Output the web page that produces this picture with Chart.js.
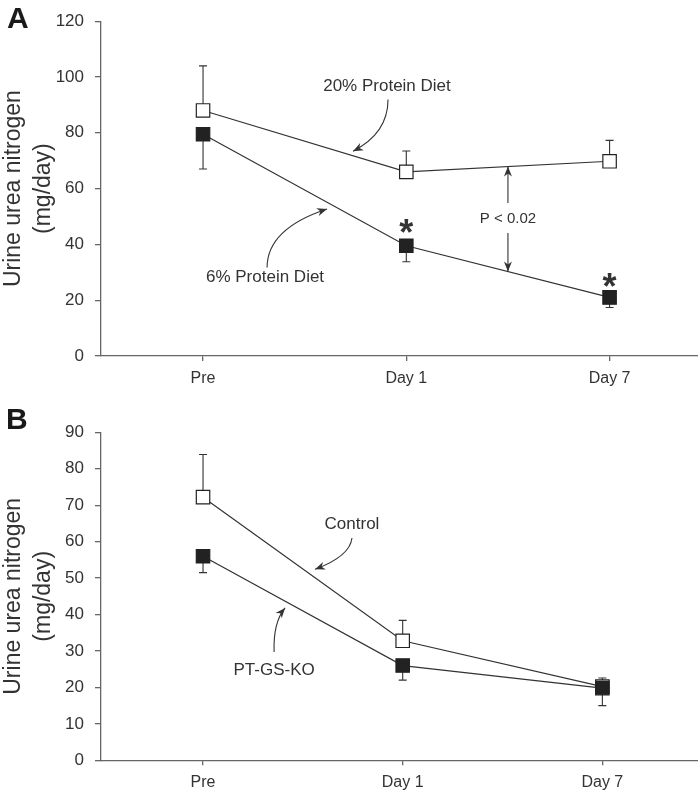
<!DOCTYPE html>
<html>
<head>
<meta charset="utf-8">
<script src="https://cdn.jsdelivr.net/npm/chart.js@4.4.0/dist/chart.umd.min.js"></script>
<style>
    body { margin: 0; background: #fff; }
    #wrap { position: relative; width: 698px; height: 791px; }
    canvas { position: absolute; left: 0; }
    .panel { position: absolute; font: bold 30px "Liberation Sans", Arial, sans-serif; line-height: 34px; color: #1a1a1a; }
</style>
</head>
<body>
<div id="wrap">
    <canvas id="chartA" width="698" height="395" style="top:0"></canvas>
    <canvas id="chartB" width="698" height="396" style="top:395px"></canvas>
    <div class="panel" style="left:7px;top:1px">A</div>
    <div class="panel" style="left:6px;top:402px">B</div>
</div>
<script>
const timepoints = ['Pre', 'Day 1', 'Day 7'];

// panel A
const protein20 = [88, 66, 69.8];
const protein20Err = [16, 7.5, 7.5];
const protein6 = [79.5, 39.5, 21];
const protein6Err = [12.5, 5.7, 3.6];
const yTicksA = [0, 20, 40, 60, 80, 100, 120];

// panel B
const control = [72.2, 32.8, 20.2];
const controlErr = [11.7, 5.6, 2.4];
const ptgsko = [56, 26, 19.8];
const ptgskoErr = [4.5, 4, 4.8];
const yTicksB = [0, 10, 20, 30, 40, 50, 60, 70, 80, 90];

const FONT = '"Liberation Sans", Arial, sans-serif';
const INK = '#333';
const AXIS = '#666';

const toPoints = vals => vals.map((v, i) => ({ x: i, y: v }));

const errorBars = {
    id: 'errorBars',
    beforeDatasetsDraw(chart) {
        const ctx = chart.ctx, ys = chart.scales.y;
        ctx.save();
        ctx.strokeStyle = INK;
        ctx.lineWidth = 1.1;
        chart.data.datasets.forEach((ds, i) => {
            chart.getDatasetMeta(i).data.forEach((pt, j) => {
                const end = ys.getPixelForValue(ds.data[j].y + ds.errDir * ds.errors[j]);
                ctx.beginPath();
                ctx.moveTo(pt.x, pt.y);
                ctx.lineTo(pt.x, end);
                ctx.moveTo(pt.x - 4, end);
                ctx.lineTo(pt.x + 4, end);
                ctx.stroke();
            });
        });
        ctx.restore();
    }
};

function arrowHead(ctx, x, y, dx, dy) {
    const len = Math.hypot(dx, dy), ux = dx / len, uy = dy / len;
    ctx.beginPath();
    ctx.moveTo(x, y);
    ctx.lineTo(x - ux * 10 - uy * 4, y - uy * 10 + ux * 4);
    ctx.lineTo(x - ux * 7, y - uy * 7);
    ctx.lineTo(x - ux * 10 + uy * 4, y - uy * 10 - ux * 4);
    ctx.closePath();
    ctx.fill();
}

// annotations are given in data units and placed through the chart scales
const makeNotes = items => ({
    id: 'notes',
    afterDatasetsDraw(chart) {
        const ctx = chart.ctx, xs = chart.scales.x, ys = chart.scales.y;
        const px = v => xs.getPixelForValue(v), py = v => ys.getPixelForValue(v);
        ctx.save();
        ctx.fillStyle = INK;
        ctx.strokeStyle = INK;
        ctx.lineWidth = 1.1;
        items.forEach(n => {
            if (n.type === 'text') {
                ctx.font = n.font || ('17px ' + FONT);
                ctx.textAlign = 'center';
                ctx.textBaseline = 'middle';
                ctx.fillText(n.text, px(n.x), py(n.y));
            } else if (n.type === 'star') {
                ctx.font = 'bold 36px ' + FONT;
                ctx.textAlign = 'center';
                ctx.textBaseline = 'alphabetic';
                ctx.fillText('*', px(n.x), py(n.y) + 21);
            } else if (n.type === 'curve') {
                const [x0, y0] = [px(n.from[0]), py(n.from[1])];
                const [x1, y1] = [px(n.ctrl[0]), py(n.ctrl[1])];
                const [x2, y2] = [px(n.to[0]), py(n.to[1])];
                ctx.beginPath();
                ctx.moveTo(x0, y0);
                ctx.quadraticCurveTo(x1, y1, x2, y2);
                ctx.stroke();
                arrowHead(ctx, x2, y2, x2 - x1, y2 - y1);
            } else if (n.type === 'span') {
                const x = px(n.x), top = py(n.y1), bot = py(n.y2), mid = (top + bot) / 2;
                ctx.beginPath();
                ctx.moveTo(x, top);
                ctx.lineTo(x, mid - 16);
                ctx.moveTo(x, mid + 14);
                ctx.lineTo(x, bot);
                ctx.stroke();
                arrowHead(ctx, x, top, 0, -1);
                arrowHead(ctx, x, bot, 0, 1);
                ctx.font = '15px ' + FONT;
                ctx.textAlign = 'center';
                ctx.textBaseline = 'middle';
                ctx.fillText(n.text, x, mid);
            }
        });
        ctx.restore();
    }
});

const makeOptions = (xMin, xMax, yMax, yTicks, top, xHeight) => ({
    responsive: false,
    animation: false,
    layout: { autoPadding: false, padding: { top: top, left: 0, right: 0, bottom: 0 } },
    plugins: { legend: { display: false }, tooltip: { enabled: false } },
    scales: {
        x: {
            type: 'linear',
            min: xMin,
            max: xMax,
            afterBuildTicks: s => { s.ticks = timepoints.map((_, i) => ({ value: i })); },
            afterFit: s => { s.height = xHeight; },
            ticks: {
                callback: v => timepoints[v],
                font: { family: FONT, size: 16 },
                color: INK,
                padding: 8,
                maxRotation: 0,
                autoSkip: false
            },
            grid: { drawOnChartArea: false, tickLength: 5, color: AXIS, lineWidth: 1.3 },
            border: { color: AXIS, width: 1.3 }
        },
        y: {
            min: 0,
            max: yMax,
            afterBuildTicks: s => { s.ticks = yTicks.map(v => ({ value: v })); },
            afterFit: s => { s.width = 101; },
            ticks: {
                font: { family: FONT, size: 17 },
                color: INK,
                padding: 11
            },
            grid: { drawOnChartArea: false, tickLength: 6, color: AXIS, lineWidth: 1.3 },
            border: { color: AXIS, width: 1.3 },
            title: {
                display: true,
                text: ['Urine urea nitrogen', '(mg/day)'],
                font: { family: FONT, size: 23, lineHeight: 1.3 },
                color: INK,
                padding: { top: -1, bottom: 0 }
            }
        }
    }
});

const makeDataset = (vals, errs, dir, fill) => ({
    data: toPoints(vals),
    errors: errs,
    errDir: dir,
    borderColor: INK,
    borderWidth: 1.2,
    pointStyle: 'rect',
    pointRadius: 9.5,
    pointBackgroundColor: fill,
    pointBorderColor: '#222',
    pointBorderWidth: 1.2,
    tension: 0
});

const midA = i => (protein20[i] + protein20[i + 1]) / 2;
const midB = i => (protein6[i] + protein6[i + 1]) / 2;

// filled series listed first so Chart.js draws it on top
new Chart(document.getElementById('chartA'), {
    type: 'line',
    data: {
        datasets: [
            makeDataset(protein6, protein6Err, -1, '#222'),
            makeDataset(protein20, protein20Err, 1, '#fff')
        ]
    },
    options: makeOptions(-0.502, 2.435, 120, yTicksA, 19, 39),
    plugins: [errorBars, makeNotes([
        { type: 'text', text: '20% Protein Diet', x: 0.905, y: 96.5 },
        { type: 'curve', from: [0.91, 91.9], ctrl: [0.91, 79.8], to: [0.738, 73.4] },
        { type: 'text', text: '6% Protein Diet', x: 0.305, y: 28.1 },
        { type: 'curve', from: [0.315, 31.7], ctrl: [0.315, 45.6], to: [0.61, 52.7] },
        { type: 'star', x: 1, y: 47.4 },
        { type: 'star', x: 2, y: 28.1 },
        { type: 'span', text: 'P < 0.02', x: 1.5, y1: midA(1), y2: midB(1) }
    ])]
});

new Chart(document.getElementById('chartB'), {
    type: 'line',
    data: {
        datasets: [
            makeDataset(ptgsko, ptgskoErr, -1, '#222'),
            makeDataset(control, controlErr, 1, '#fff')
        ]
    },
    options: makeOptions(-0.511, 2.479, 90, yTicksB, 37.3, 30.7),
    plugins: [errorBars, makeNotes([
        { type: 'text', text: 'Control', x: 0.746, y: 64.8 },
        { type: 'curve', from: [0.746, 61.0], ctrl: [0.736, 56.0], to: [0.561, 52.4] },
        { type: 'text', text: 'PT-GS-KO', x: 0.356, y: 24.8 },
        { type: 'curve', from: [0.356, 29.7], ctrl: [0.351, 37.9], to: [0.411, 41.8] }
    ])]
});
</script>
</body>
</html>
